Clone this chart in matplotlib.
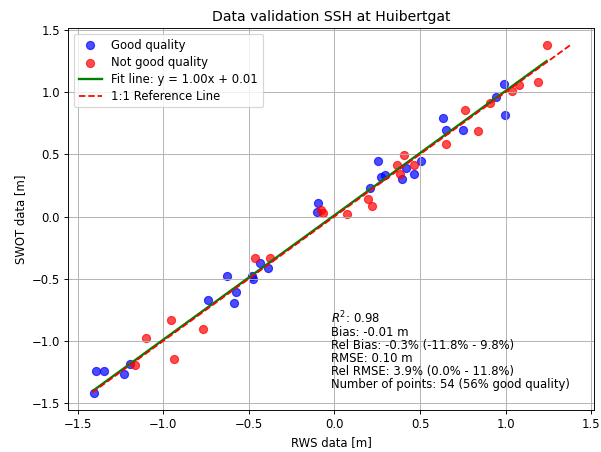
import numpy as np
import matplotlib
matplotlib.use("Agg")
import matplotlib.pyplot as plt

# Good quality points (RWS vs SWOT, metres)
good_rws = [-1.407, -1.393, -1.344, -1.232, -1.193, -0.738, -0.626, -0.587, -0.574, -0.479,
            -0.474, -0.438, -0.387, -0.099, -0.100, 0.206, 0.254, 0.274, 0.293, 0.392,
            0.421, 0.462, 0.503, 0.635, 0.653, 0.751, 0.944, 0.991, 0.999]
good_swot = [-1.416, -1.240, -1.240, -1.270, -1.184, -0.672, -0.480, -0.692, -0.608, -0.480,
             -0.504, -0.376, -0.414, 0.106, 0.036, 0.228, 0.444, 0.316, 0.336, 0.300,
             0.394, 0.340, 0.446, 0.792, 0.692, 0.696, 0.962, 1.066, 0.820]

# Not good quality points
bad_rws = [-1.164, -1.103, -0.955, -0.938, -0.766, -0.462, -0.375, -0.078, -0.066, 0.076,
           0.194, 0.221, 0.363, 0.385, 0.406, 0.462, 0.654, 0.764, 0.841, 0.911,
           1.038, 1.076, 1.191, 1.240]
bad_swot = [-1.194, -0.978, -0.834, -1.146, -0.902, -0.336, -0.336, 0.052, 0.032, 0.022,
            0.142, 0.086, 0.412, 0.338, 0.493, 0.418, 0.586, 0.856, 0.688, 0.914,
            1.006, 1.054, 1.082, 1.376]

fit_slope = 1.00
fit_intercept = 0.01

stats_lines = [
    r"$R^2$: 0.98",
    "Bias: -0.01 m",
    "Rel Bias: -0.3% (-11.8% - 9.8%)",
    "RMSE: 0.10 m",
    "Rel RMSE: 3.9% (0.0% - 11.8%)",
    "Number of points: 54 (56% good quality)",
]

DPI = 84
fig = plt.figure(figsize=(601 / DPI, 452 / DPI), dpi=DPI)
ax = fig.add_subplot(111)
fig.subplots_adjust(left=0.1136, right=0.988, bottom=0.093, top=0.938)

ax.scatter(good_rws, good_swot, c="blue", alpha=0.7, s=48, label="Good quality")
ax.scatter(bad_rws, bad_swot, c="red", alpha=0.7, s=48, label="Not good quality")

all_x = np.array(good_rws + bad_rws)
all_y = np.array(good_swot + bad_swot)
xfit = np.array([all_x.min(), all_x.max()])
ax.plot(xfit, fit_slope * xfit + fit_intercept, color="green", lw=2,
        label=f"Fit line: y = {fit_slope:.2f}x + {fit_intercept:.2f}")

lo = min(all_x.min(), all_y.min())
hi = max(all_x.max(), all_y.max())
ax.plot([lo, hi], [lo, hi], "r--", lw=1.5, label="1:1 Reference Line")

ax.set_title("Data validation SSH at Huibertgat")
ax.set_xlabel("RWS data [m]")
ax.set_ylabel("SWOT data [m]")
ax.grid(True)
ax.legend(loc="upper left", labelspacing=0.35)
ax.text(0.5, 0.05, "\n".join(stats_lines), transform=ax.transAxes,
        ha="left", va="bottom", fontsize=10, linespacing=1.0)

fig.savefig("out.png", dpi=DPI)
